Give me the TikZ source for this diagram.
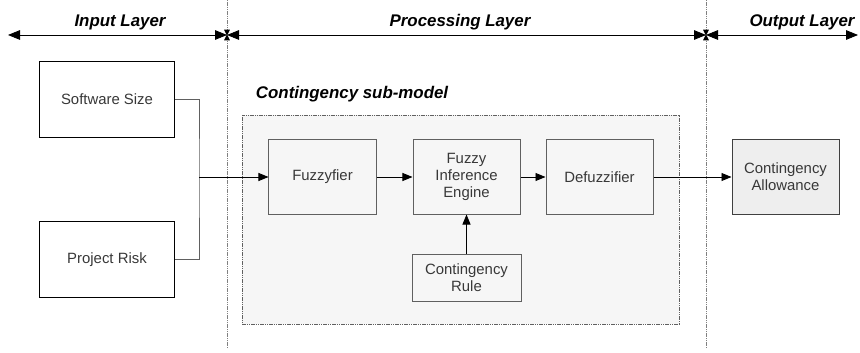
\documentclass[tikz,border=0pt]{standalone}
\usepackage{fontspec}
\setmainfont{Liberation Sans}
\usepackage{tikz}
\usepackage{xcolor}
\usetikzlibrary{calc}
\usetikzlibrary{arrows.meta}

\definecolor{boxline}{HTML}{606060}
\definecolor{boxtext}{HTML}{383838}
\definecolor{subfill}{HTML}{F6F6F6}
\definecolor{outfill}{HTML}{EEEEEE}

\tikzset{
  inbox/.style={draw=black, fill=white, line width=0.7pt, minimum width=3.35cm,
    minimum height=1.875cm, text=boxtext, font=\fontsize{10.6}{12.1}\selectfont},
  fuzzbox/.style={draw=boxline, fill=subfill, line width=0.7pt, minimum width=2.675cm,
    minimum height=1.85cm, align=center, text=boxtext, font=\fontsize{10.6}{12.1}\selectfont},
  layertext/.style={font=\fontsize{12}{14}\selectfont\bfseries\itshape},
  flow/.style={-{Triangle[length=0.25cm,width=0.2cm]}, line width=0.6pt},
  layerline/.style={{Triangle[length=0.3cm,width=0.24cm]}-{Triangle[length=0.3cm,width=0.24cm]}, line width=0.6pt},
  sepline/.style={gray, line width=0.6pt, dash pattern=on 1pt off 0.6pt,
    -{Triangle[length=0.15cm,width=0.14cm,color=black]}, shorten >=-0.5pt}
}

\begin{document}
\begin{tikzpicture}[x=0.025cm,y=-0.025cm]
\useasboundingbox (0,0) rectangle (860,353);

% layer bar
\coordinate (leftend) at (8,35);
\coordinate (sepA) at (227,35);
\coordinate (sepB) at (706,35);
\coordinate (rightend) at (858,35);
\draw[sepline] (227,0) -- (sepA);
\draw[sepline] (227,348) -- (sepA);
\draw[sepline] (706,0) -- (sepB);
\draw[sepline] (706,348) -- (sepB);
\draw[layerline] (leftend) -- (sepA);
\draw[layerline] (sepA) -- (sepB);
\draw[layerline] (sepB) -- (rightend);
\node[layertext] (inlayer) at (120,22) {Input Layer};
\node[layertext] (proclayer) at (460,22) {Processing Layer};
\node[layertext] (outlayer) at (802,22) {Output Layer};

% sub-model frame
\draw[boxline, fill=subfill, line width=0.5pt, dash pattern=on 1pt off 0.6pt] (242,115) rectangle (679,324);
\node[layertext, anchor=west] (sublabel) at (251,94) {Contingency sub-model};

% boxes
\node[inbox] (size) at (107,99.5) {Software Size};
\node[inbox] (risk) at (107,259.5) {Project Risk};
\node[fuzzbox] (fuzz) at (322.5,177) {Fuzzyfier};
\node[fuzzbox] (fie) at (466.5,177) {Fuzzy\\Inference\\Engine};
\node[fuzzbox] (defuzz) at (599.5,177) {Defuzzifier};
\node[fuzzbox, minimum width=2.725cm, minimum height=1.175cm] (rule) at (466.5,277.5) {Contingency\\Rule};
\node[fuzzbox, draw=black!75, fill=outfill] (allow) at (785.5,177) {Contingency\\Allowance};

% connectors
\coordinate (join) at (199,177);
\draw[boxline, line width=0.7pt] (size.east) -| (join) |- (risk.east);
\draw[flow] (join) -- (fuzz.west);
\draw[flow] (fuzz) -- (fie);
\draw[flow] (fie) -- (defuzz);
\draw[flow] (rule) -- (fie);
\draw[flow] (defuzz) -- (allow);

\end{tikzpicture}
\end{document}
